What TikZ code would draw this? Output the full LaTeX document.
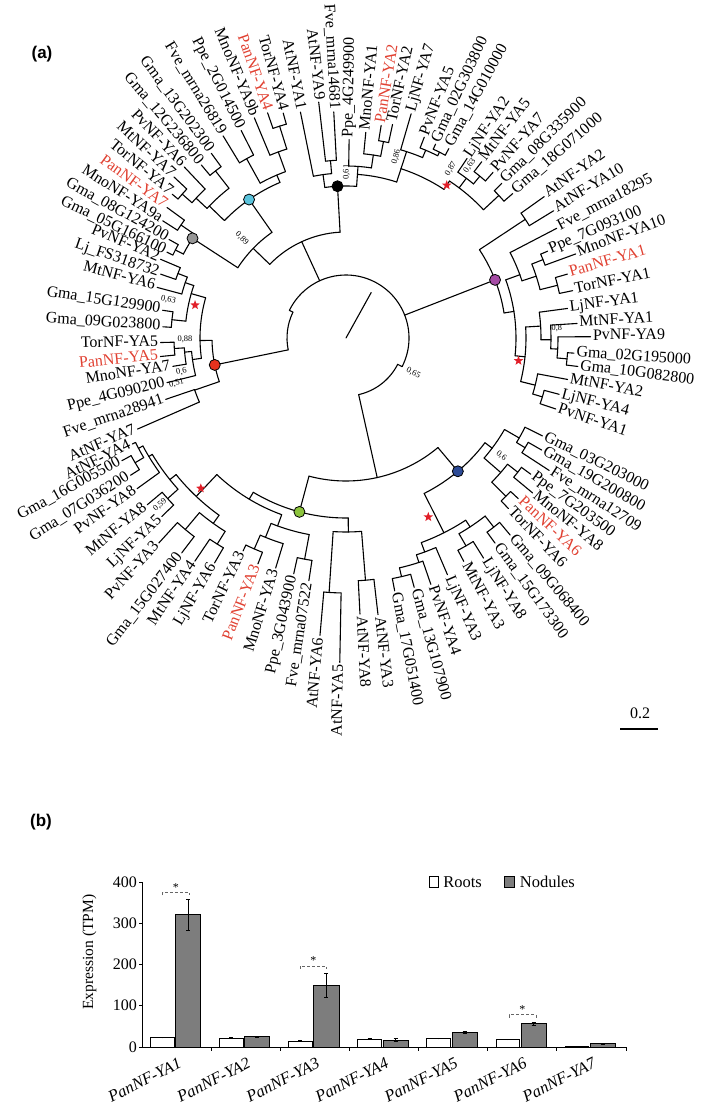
\documentclass[tikz,border=0pt]{standalone}
\usepackage{fontspec}
\setmainfont{Liberation Serif}
\newfontfamily\arialf{Liberation Sans}
\usetikzlibrary{shapes.geometric}
\newcounter{lfc}
\definecolor{panred}{RGB}{225,65,50}
\definecolor{ncyan}{RGB}{90,195,220}
\definecolor{ngray}{RGB}{150,150,150}
\definecolor{nred}{RGB}{230,50,30}
\definecolor{npurple}{RGB}{165,75,165}
\definecolor{nblue}{RGB}{45,75,150}
\definecolor{ngreen}{RGB}{140,195,60}
\definecolor{starred}{RGB}{225,30,40}
\definecolor{bargray}{RGB}{125,125,125}
\tikzset{
  br/.style={line width=1.1pt, line cap=round},
  lab/.style={font=\fontsize{16}{16}\selectfont, inner sep=0pt, outer sep=0pt, text height=0.66em, text depth=0pt},
  sv/.style={font=\fontsize{8.5}{8.5}\selectfont, inner sep=0pt},
  dotn/.style={circle, draw=black, line width=0.8pt, minimum size=11pt, inner sep=0pt},
  starn/.style={star, star points=5, star point ratio=2.4, fill=starred, draw=none, minimum size=10pt, inner sep=0pt},
  barline/.style={line width=0.8pt, draw=black},
  errb/.style={line width=0.8pt},
  tick/.style={font=\fontsize{16}{16}\selectfont, inner sep=1pt},
  xl/.style={font=\itshape\fontsize{16.5}{16.5}\selectfont, inner sep=0pt},
  sig/.style={densely dashed, line width=0.6pt, draw=black!60}
}
\newcommand\tarc[3]{\draw[br] ({#2}:{#1}) arc[start angle=#2, end angle=#3, radius=#1];}
\newcommand\trad[3]{\draw[br] ({#1}:{#2}) -- ({#1}:{#3});}
\newcommand\lfr[5][black]{\draw[br] ({#2}:{#3}) -- ({#2}:{#4-2.5});\stepcounter{lfc}\node[lab,text=#1,anchor=west,rotate=#2] (lf\arabic{lfc}) at ({#2}:{#4}) {#5};}
\newcommand\lfl[5][black]{\draw[br] ({#2}:{#3}) -- ({#2}:{#4-2.5});\stepcounter{lfc}\node[lab,text=#1,anchor=east,rotate=#2+180] (lf\arabic{lfc}) at ({#2}:{#4}) {#5};}
\newcommand\sval[4]{\stepcounter{lfc}\node[sv,rotate=#3] (sv\arabic{lfc}) at ({#1}:{#2}) {#4};}
\newcommand\cnode[4]{\node[dotn,fill=#2] (#1) at ({#3}:{#4}) {};}
\newcommand\rstar[3]{\node[starn] (#1) at ({#2}:{#3}) {};}
\begin{document}
\begin{tikzpicture}[x=1pt,y=1pt]
\useasboundingbox (-346,-767) rectangle (363,338);
\fill[white] (-346,-767) rectangle (363,338);
\node[font=\arialf\bfseries\fontsize{17}{17}\selectfont, inner sep=0pt] (pa) at (-304,284) {(a)};
% ---------- root ----------
\draw[br] (0,0) -- (61:52);
\tarc{58}{-77.4}{-27}
\trad{-27}{58}{63}
\tarc{63}{-27}{154}
\trad{154}{63}{59}
\tarc{59}{154}{191.6}
\trad{-77.4}{58}{143}
\trad{21.3}{63}{160}
\trad{114.7}{63}{106}
\trad{191.6}{59}{134}
\sval{-27.6}{76}{-27.6}{0,65}
% P and Q
\tarc{106}{93.2}{136}
\trad{93.2}{106}{152}
\trad{136}{106}{129}
\tarc{129}{125}{147}
\trad{125}{129}{169}
\trad{147}{129}{183}
\sval{136.3}{144}{-43.7}{0,89}
% ---------- cyan clade ----------
\tarc{169}{113}{136}
\trad{113}{169}{177}
\tarc{177}{110}{119}
\trad{110}{177}{198}
\tarc{198}{107.4}{112.6}
\trad{107.4}{198}{222}
\tarc{222}{105.6}{109.2}
\lfl{105.6}{222}{236}{TorNF-YA4}
\lfl[panred]{109.2}{222}{241}{PanNF-YA4}
\lfl{112.6}{198}{241}{MnoNF-YA9b}
\trad{119}{177}{205}
\tarc{205}{116.8}{121.3}
\lfl{116.8}{205}{235}{Ppe\_2G014500}
\lfl{121.3}{205}{239}{Fve\_mrna26819}
\trad{136}{169}{190}
\tarc{190}{128}{137}
\trad{128}{190}{212}
\tarc{212}{126.1}{129.9}
\lfl{126.1}{212}{231}{Gma\_13G202300}
\lfl{129.9}{212}{228}{Gma\_12G236800}
\trad{137}{190}{205}
\tarc{205}{133.4}{138.7}
\lfl{133.4}{205}{238}{PvNF-YA6}
\trad{138.7}{205}{218}
\tarc{218}{136.9}{140.4}
\lfl{136.9}{218}{238}{MtNF-YA7}
\lfl{140.4}{218}{228}{TorNF-YA7}
% ---------- gray clade ----------
\tarc{183}{145.6}{152.7}
\trad{145.6}{183}{200}
\tarc{200}{143.9}{147.4}
\lfl[panred]{143.9}{200}{224}{PanNF-YA7}
\lfl{147.4}{200}{220}{MnoNF-YA9a}
\trad{152.7}{183}{192}
\tarc{192}{150.9}{154.4}
\lfl{150.9}{192}{205}{Gma\_08G124200}
\lfl{154.4}{192}{201}{Gma\_05G166100}
% ---------- black clade ----------
\tarc{152}{86}{98}
\trad{98}{152}{165}
\tarc{165}{95}{101.4}
\lfl{101.4}{165}{233}{AtNF-YA1}
\trad{95}{165}{178}
\tarc{178}{93.1}{96.6}
\lfl{96.6}{178}{240}{AtNF-YA9}
\lfl{93.1}{178}{229}{Fve\_mrna14681}
\trad{86}{152}{164}
\tarc{164}{72}{86}
\trad{86}{164}{172}
\tarc{172}{81.5}{89.1}
\lfr{89.1}{172}{201}{Ppe\_4G249900}
\trad{81.5}{172}{185}
\tarc{185}{79.2}{84.5}
\lfr{84.5}{185}{209}{MnoNF-YA1}
\trad{79.2}{185}{200}
\tarc{200}{77.7}{80.6}
\lfr[panred]{80.6}{200}{218}{PanNF-YA2}
\lfr{77.7}{200}{221}{TorNF-YA2}
\sval{89.8}{166}{89.8}{0,61}
\trad{72}{164}{178}
\tarc{178}{56.6}{72}
\trad{72}{178}{196}
\tarc{196}{67}{73.8}
\lfr{73.8}{196}{236}{LjNF-YA7}
\trad{67}{196}{204}
\tarc{204}{63.3}{68.7}
\lfr{68.7}{204}{218}{PvNF-YA5}
\trad{63.3}{204}{208}
\tarc{208}{61.5}{65.2}
\lfr{65.2}{208}{216}{Gma\_02G303800}
\lfr{61.5}{208}{218}{Gma\_14G010000}
\sval{74.5}{188}{74.5}{0,86}
\trad{56.6}{178}{188}
\tarc{188}{43}{56.6}
\trad{53}{188}{200}
\tarc{200}{50.4}{56}
\lfr{56}{200}{219}{LjNF-YA2}
\trad{50.4}{200}{210}
\tarc{210}{48.4}{52.4}
\lfr{52.4}{210}{225}{MtNF-YA5}
\lfr{48.4}{210}{224}{PvNF-YA7}
\trad{43}{188}{209}
\tarc{209}{40.9}{44.8}
\lfr{44.8}{209}{222}{Gma\_08G335900}
\lfr{40.9}{209}{223}{Gma\_18G071000}
\sval{58.2}{199}{58.2}{0,87}
\sval{54.3}{212}{54.3}{0,63}
% ---------- purple clade ----------
\tarc{160}{9}{33.5}
\trad{33.5}{160}{215}
\tarc{215}{31.5}{35.5}
\lfr{35.5}{215}{246}{AtNF-YA2}
\lfr{31.5}{215}{246}{AtNF-YA10}
\trad{9}{160}{170}
\tarc{170}{-6}{20}
\trad{20}{170}{185}
\tarc{185}{18}{27.5}
\lfr{27.5}{185}{240}{Fve\_mrna18295}
\trad{18}{185}{200}
\tarc{200}{14}{21.7}
\trad{21.7}{200}{212}
\tarc{212}{20.1}{23.3}
\lfr{23.3}{212}{222}{Ppe\_7G093100}
\lfr{20.1}{212}{247}{MnoNF-YA10}
\trad{14}{200}{218}
\tarc{218}{11.8}{16.1}
\lfr[panred]{16.1}{218}{233}{PanNF-YA1}
\lfr{11.8}{218}{234}{TorNF-YA1}
\trad{-6}{170}{180}
\tarc{180}{-14}{3.5}
\trad{3.5}{180}{195}
\tarc{195}{-0.5}{7.6}
\lfr{7.6}{195}{226}{LjNF-YA1}
\trad{-0.5}{195}{205}
\tarc{205}{-3}{3.6}
\lfr{3.6}{205}{234}{MtNF-YA1}
\trad{-3}{205}{212}
\tarc{212}{-5.4}{0.3}
\lfr{0.3}{212}{247}{PvNF-YA9}
\trad{-5.4}{212}{222}
\tarc{222}{-7}{-3.8}
\lfr{-3.8}{222}{231}{Gma\_02G195000}
\lfr{-7}{222}{236}{Gma\_10G082800}
\trad{-14}{180}{195}
\tarc{195}{-16.7}{-10.6}
\lfr{-10.6}{195}{228}{MtNF-YA2}
\trad{-16.7}{195}{205}
\tarc{205}{-18.7}{-14.8}
\lfr{-14.8}{205}{223}{LjNF-YA4}
\lfr{-18.7}{205}{224}{PvNF-YA1}
\sval{2.6}{211}{2.6}{0,8}
% ---------- bottom node ----------
\tarc{143}{-105}{-50}
\trad{-50}{143}{174}
\trad{-105}{143}{180}
% ---------- blue clade ----------
\tarc{174}{-63.3}{-37}
\trad{-37}{174}{183}
\tarc{183}{-41}{-30}
\trad{-30}{183}{200}
\tarc{200}{-31.5}{-26.5}
\lfr{-26.5}{200}{222}{Gma\_03G203000}
\trad{-31.5}{200}{210}
\tarc{210}{-33.1}{-29.8}
\lfr{-29.8}{210}{228}{Gma\_19G200800}
\lfr{-33.1}{210}{245}{Fve\_mrna12709}
\trad{-41}{183}{205}
\tarc{205}{-44.7}{-38}
\trad{-38}{205}{218}
\tarc{218}{-39.7}{-36.4}
\lfr{-36.4}{218}{232}{Ppe\_7G203500}
\lfr{-39.7}{218}{245}{MnoNF-YA8}
\trad{-44.7}{205}{225}
\tarc{225}{-46.4}{-43}
\lfr[panred]{-43}{225}{238}{PanNF-YA6}
\lfr{-46.4}{225}{238}{TorNF-YA6}
\sval{-37.2}{195}{-37.2}{0,6}
\trad{-63.3}{174}{218}
\tarc{218}{-69.8}{-56.7}
\trad{-56.7}{218}{226}
\tarc{226}{-60}{-52}
\trad{-52}{226}{240}
\tarc{240}{-54}{-50.2}
\lfr{-50.2}{240}{259}{Gma\_09G068400}
\lfr{-54}{240}{256}{Gma\_15G173300}
\trad{-60}{226}{240}
\tarc{240}{-62.2}{-58}
\lfr{-58}{240}{262}{LjNF-YA8}
\lfr{-62.2}{240}{255}{MtNF-YA3}
\trad{-69.8}{218}{228}
\tarc{228}{-72}{-66.8}
\lfr{-66.8}{228}{260}{LjNF-YA3}
\trad{-72}{228}{236}
\tarc{236}{-76.9}{-71}
\lfr{-71}{236}{263}{PvNF-YA4}
\trad{-76.9}{236}{245}
\tarc{245}{-79.1}{-74.7}
\lfr{-74.7}{245}{261}{Gma\_13G107900}
\lfr{-79.1}{245}{260}{Gma\_17G051400}
% ---------- green clade ----------
\tarc{180}{239}{270.7}
\trad{270.7}{180}{194}
\tarc{194}{266.2}{274.6}
\trad{266.2}{194}{255}
\tarc{255}{265}{268.9}
\lfl{265}{255}{301}{AtNF-YA6}
\lfl{268.9}{255}{327}{AtNF-YA5}
\trad{274.6}{194}{243}
\tarc{243}{272.9}{276.6}
\lfr{-87.1}{243}{279}{AtNF-YA8}
\lfr{-83.4}{243}{281}{AtNF-YA3}
\trad{239}{180}{188}
\tarc{188}{226.6}{250}
\trad{226.6}{188}{218}
\tarc{218}{218.8}{234.4}
\trad{218.8}{218}{226}
\tarc{226}{211}{222}
\trad{211}{226}{230}
\tarc{230}{208}{215.8}
\trad{208}{230}{235}
\tarc{235}{206.4}{210.6}
\lfl{206.4}{235}{241}{AtNF-YA4}
\trad{210.6}{235}{245}
\tarc{245}{208.7}{212.5}
\lfl{208.7}{245}{258}{Gma\_16G005500}
\lfl{212.5}{245}{258}{Gma\_07G036200}
\lfl{215.8}{230}{260}{PvNF-YA8}
\trad{222}{226}{240}
\tarc{240}{220}{224.1}
\lfl{220}{240}{262}{MtNF-YA8}
\lfl{224.1}{240}{259}{LjNF-YA5}
\sval{221.9}{250}{41.9}{0,59}
\trad{234.4}{218}{228}
\tarc{228}{230}{238}
\trad{230}{228}{250}
\tarc{250}{227.6}{232.6}
\lfl{227.6}{250}{280}{PvNF-YA3}
\lfl{232.6}{250}{273}{Gma\_15G027400}
\trad{238}{228}{243}
\tarc{243}{235.9}{239.7}
\lfl{235.9}{243}{272}{MtNF-YA4}
\lfl{239.7}{243}{263}{LjNF-YA6}
\trad{250}{188}{200}
\tarc{200}{248}{259.4}
\trad{248}{200}{215}
\tarc{215}{246.5}{253}
\trad{246.5}{215}{230}
\tarc{230}{244.2}{248.7}
\lfl{244.2}{230}{239}{TorNF-YA3}
\lfl[panred]{248.7}{230}{245}{PanNF-YA3}
\lfl{253}{215}{243}{MnoNF-YA3}
\trad{259.4}{200}{225}
\tarc{225}{257.5}{261.3}
\lfl{257.5}{225}{244}{Ppe\_3G043900}
\lfl{261.3}{225}{248}{Fve\_mrna07522}
% ---------- red clade ----------
\tarc{134}{181}{199}
\trad{181}{134}{146}
\tarc{146}{164}{188}
\trad{164}{146}{161}
\tarc{161}{161}{174}
\trad{161}{161}{170}
\tarc{170}{159}{165}
\trad{159}{170}{180}
\tarc{180}{157}{161}
\lfl{157}{180}{204}{PvNF-YA2}
\lfl{161}{180}{198.5}{Lj\_FS318732}
\lfl{165}{170}{198}{MtNF-YA6}
\trad{174}{161}{175}
\tarc{175}{171.4}{176.5}
\lfl{171.4}{175}{188}{Gma\_15G129900}
\lfl{176.5}{175}{186}{Gma\_09G023800}
\sval{167.9}{181.7}{-12.1}{0,63}
\trad{188}{146}{155}
\tarc{155}{185}{194}
\trad{185}{155}{162}
\tarc{162}{183.5}{189.3}
\trad{183.5}{162}{172}
\tarc{172}{181.4}{185.7}
\lfl{181.4}{172}{188}{TorNF-YA5}
\lfl[panred]{185.7}{172}{189}{PanNF-YA5}
\lfl{189.3}{162}{178}{MnoNF-YA7}
\lfl{194}{155}{187}{Ppe\_4G090200}
\sval{180.4}{161}{0.4}{0,88}
\sval{191.6}{168}{11.6}{0,6}
\sval{195}{175.5}{15}{0,51}
\trad{199}{134}{160}
\tarc{160}{198.8}{203.6}
\lfl{198.8}{160}{193}{Fve\_mrna28941}
\lfl{203.6}{160}{230}{AtNF-YA7}
% ---------- coloured nodes and stars ----------
\cnode{nblack}{black}{93.2}{152}
\cnode{ncy}{ncyan}{125}{169}
\cnode{ngr}{ngray}{147}{183}
\cnode{nrd}{nred}{191.6}{134}
\cnode{npu}{npurple}{21.3}{160}
\cnode{nbl}{nblue}{-50}{174}
\cnode{ngn}{ngreen}{-105}{180}
\rstar{s1}{56.6}{183}
\rstar{s2}{167.7}{154.5}
\rstar{s3}{-7.5}{174}
\rstar{s4}{226}{209}
\rstar{s5}{-65.3}{197}
% ---------- scale bar ----------
\coordinate (sbl) at (274,-391);
\coordinate (sbr) at (312,-391);
\draw[line width=1.1pt] (sbl) -- (sbr);
\node[font=\fontsize{16}{16}\selectfont, inner sep=0pt] (sbt) at (294,-375) {0.2};
% ---------- panel (b) ----------
\node[font=\arialf\bfseries\fontsize{17}{17}\selectfont, inner sep=0pt] (pb) at (-305,-484) {(b)};
\begin{scope}[shift={(-203.8,-709)}]
\foreach \k/\r/\re/\n/\nlo/\nhi in {0/22.7/1.5/321/282/359, 1/21/1.2/25/23.5/26.8, 2/14.5/0.8/150/121/179.5, 3/19.5/1.5/17/14.5/19.8, 4/20/1.2/34.6/32.5/36.7, 5/17.6/1.2/56.7/52/60.5, 6/2/0.5/8/6.5/9.8}{
  \draw[barline, fill=white] ({69.1*\k+8.2},0) rectangle ({69.1*\k+32},{\r*0.4125});
  \draw[barline, fill=bargray] ({69.1*\k+33.4},0) rectangle ({69.1*\k+58.6},{\n*0.4125});
  \draw[errb] ({69.1*\k+20.1},{(\r-\re)*0.4125}) -- ({69.1*\k+20.1},{(\r+\re)*0.4125});
  \draw[errb] ({69.1*\k+18.1},{(\r+\re)*0.4125}) -- ({69.1*\k+22.1},{(\r+\re)*0.4125});
  \draw[errb] ({69.1*\k+46},{\nlo*0.4125}) -- ({69.1*\k+46},{\nhi*0.4125});
  \draw[errb] ({69.1*\k+44},{\nhi*0.4125}) -- ({69.1*\k+48},{\nhi*0.4125});
  \draw[errb] ({69.1*\k+44},{\nlo*0.4125}) -- ({69.1*\k+48},{\nlo*0.4125});
}
\draw[line width=0.9pt] (0,{400*0.4125}) -- (0,0) -- (483.7,0);
\foreach \v in {0,100,200,300,400}{
  \draw[line width=0.8pt] (0,{\v*0.4125}) -- (-3,{\v*0.4125});
  \node[tick, anchor=east] at (-4,{\v*0.4125}) {\v};
}
\foreach \k in {1,...,7}{
  \draw[line width=0.8pt] ({69.1*\k},0) -- ({69.1*\k},-4);
  \node[xl, anchor=east, rotate=27] at ({69.1*(\k-1)+38},-15) {PanNF-YA\k};
}
\node[font=\fontsize{15.5}{15.5}\selectfont, rotate=90, inner sep=0pt] (ylab) at (-52.8,95) {Expression (TPM)};
% legend
\draw[barline, fill=white] (286.8,159.5) rectangle (295.8,170.5);
\node[font=\fontsize{16.5}{16.5}\selectfont, anchor=west, inner sep=0pt] (lr) at (301,165) {Roots};
\draw[barline, fill=bargray] (362.4,159.5) rectangle (372,170.5);
\node[font=\fontsize{16.5}{16.5}\selectfont, anchor=west, inner sep=0pt] (ln) at (377.5,165) {Nodules};
% significance
\draw[sig] (20.6,151.6) -- (20.6,154.6) -- (46.8,154.6) -- (46.8,151.6);
\node[font=\fontsize{12}{12}\selectfont, inner sep=0pt] (st1) at (33.7,159.5) {*};
\draw[sig] (158.3,78.1) -- (158.3,81.1) -- (184.4,81.1) -- (184.4,78.1);
\node[font=\fontsize{12}{12}\selectfont, inner sep=0pt] (st3) at (171.3,86) {*};
\draw[sig] (366.8,29.5) -- (366.8,32.5) -- (393.6,32.5) -- (393.6,29.5);
\node[font=\fontsize{12}{12}\selectfont, inner sep=0pt] (st6) at (380.2,37.6) {*};
\end{scope}
\end{tikzpicture}
\end{document}
